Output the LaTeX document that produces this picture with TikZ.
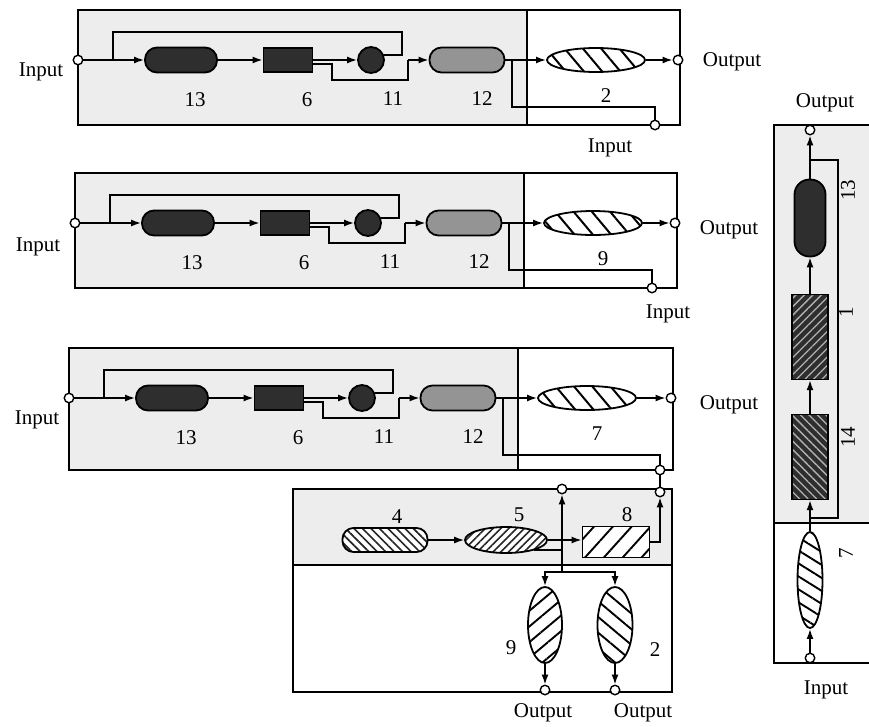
\documentclass[tikz,border=0pt]{standalone}
\usepackage{fontspec}
\setmainfont{Liberation Serif}
\usetikzlibrary{arrows.meta,patterns.meta,shapes.geometric}
\tikzset{
  ln/.style={line width=1.6pt},
  arr/.style={line width=1.6pt,-{Latex[length=10pt,width=7pt]}},
  frame/.style={line width=1.9pt},
  shadebg/.style={fill=gray!14},
  port/.style={circle,draw,line width=1.4pt,fill=white,minimum size=9.5pt,inner sep=0pt},
  lab/.style={font={\fontsize{21}{24}\selectfont},inner sep=0pt},
  solid node/.style={draw,line width=1.8pt,inner sep=0pt},
  darkpill/.style={solid node,rectangle,rounded corners=12pt,fill=black!82,minimum width=72pt,minimum height=25pt},
  graypill/.style={solid node,rectangle,rounded corners=12pt,fill=black!42,minimum width=75pt,minimum height=25pt},
  darkbox/.style={solid node,rectangle,fill=black!82,minimum width=49pt,minimum height=24pt},
  darkdot/.style={solid node,circle,fill=black!82,minimum size=26pt},
  hatchell/.style={solid node,ellipse,minimum width=98pt,minimum height=24pt,
     preaction={fill=white},pattern={Lines[angle=-50,distance=14pt,line width=2pt]},pattern color=black},
}
\newcommand\blockrow[8]{%
\begin{scope}[shift={(#2,#3)}]
  \fill[shadebg] (78,10) rectangle (527,#5);
  \draw[frame] (78,10) rectangle (#8,#5);
  \draw[frame] (527,10) -- (527,#5);
  \node[port] (#1in) at (78,60) {};
  \node[darkpill] (#1p13) at (181,60) {};
  \node[darkbox] (#1b6) at (288,60) {};
  \node[darkdot] (#1c11) at (371,60) {};
  \node[graypill] (#1p12) at (467,60) {};
  \node[hatchell] (#1e) at (596,60) {};
  \node[port] (#1out) at (#8-2,60) {};
  \node[port] (#1in2) at (#7,#5) {};
  \coordinate (#1b1) at (113,60);
  \coordinate (#1j) at (408,60);
  \coordinate (#1s) at (512,60);
  \draw[arr] (#1in) -- (#1p13);
  \draw[arr] (#1p13) -- (#1b6);
  \draw[arr] (#1b6) -- (#1c11);
  \draw[ln] ([yshift=-4pt]#1b6.east) -| (332,80) -| (#1j);
  \draw[ln] (#1b1) |- (402,32) |- (#1c11.20);
  \draw[arr] (#1j) -- (#1p12);
  \draw[arr] (#1p12) -- (#1e);
  \draw[ln] (#1s) |- (#7,#6) -- (#1in2);
  \draw[arr] (#1e) -- (#1out);
  \node[lab] (#1l13) at (195,100) {13};
  \node[lab] (#1l6) at (307,100) {6};
  \node[lab] (#1l11) at (393,99) {11};
  \node[lab] (#1l12) at (482,99) {12};
  \node[lab] (#1le) at (606,96) {#4};
\end{scope}}
\begin{document}
\begin{tikzpicture}[x=1pt,y=-1pt]
\useasboundingbox (0,0) rectangle (869,726);
\fill[white] (0,0) rectangle (869,726);

\blockrow{a}{0}{0}{2}{125}{107}{655}{680}
\blockrow{b}{-3}{163}{9}{125}{107}{655}{680}
\blockrow{c}{-9}{338}{7}{132}{117}{669}{682}

\node[lab] (ainl) at (41,72) {Input};
\node[lab] (aoutl) at (732,62) {Output};
\node[lab] (ain2l) at (610,148) {Input};
\node[lab] (binl) at (38,247) {Input};
\node[lab] (boutl) at (729,230) {Output};
\node[lab] (bin2l) at (668,314) {Input};
\node[lab] (cinl) at (37,420) {Input};
\node[lab] (coutl) at (729,405) {Output};

% bottom block
\fill[shadebg] (293,489) rectangle (672,565);
\draw[frame] (293,489) rectangle (672,692);
\draw[frame] (293,565) -- (672,565);
\node[solid node,rectangle,rounded corners=11pt,minimum width=85pt,minimum height=24pt,
  preaction={fill=white},pattern={Lines[angle=-45,distance=6pt,line width=1.7pt]},pattern color=black!85] (p4) at (385,540) {};
\node[solid node,ellipse,minimum width=82pt,minimum height=26pt,
  preaction={fill=white},pattern={Lines[angle=45,distance=5.5pt,line width=1.6pt]},pattern color=black!85] (e5) at (506,540) {};
\node[solid node,rectangle,minimum width=67pt,minimum height=31pt,
  preaction={fill=white},pattern={Lines[angle=48,distance=14pt,line width=1.9pt]},pattern color=black] (b8) at (616,542) {};
\node[solid node,ellipse,minimum width=34pt,minimum height=76pt,
  preaction={fill=white},pattern={Lines[angle=40,distance=12pt,line width=1.9pt]},pattern color=black] (e9b) at (545,625) {};
\node[solid node,ellipse,minimum width=35pt,minimum height=76pt,
  preaction={fill=white},pattern={Lines[angle=-40,distance=12pt,line width=1.9pt]},pattern color=black] (e2b) at (615,625) {};
\node[port] (o5) at (562,489) {};
\node[port] (o8) at (660,492) {};
\node[port] (o9b) at (545,690) {};
\node[port] (o2b) at (615,690) {};
\coordinate (j5b) at (562,572);
\draw[arr] (p4) -- (e5);
\draw[arr] (e5.east) -- (e5.east -| b8.west);
\draw[ln] (e5.-20) -| (j5b);
\draw[arr] (j5b) -- (o5);
\draw[arr] (j5b) -| (e9b);
\draw[arr] (j5b) -| (e2b);
\draw[arr] (e9b) -- (o9b);
\draw[arr] (e2b) -- (o2b);
\draw[arr] (b8.east) -| (o8);
\draw[ln] (cin2) -- (o8);
\node[lab] (l4) at (397,517) {4};
\node[lab] (l5) at (519,515) {5};
\node[lab] (l8) at (627,515) {8};
\node[lab] (l9b) at (511,648) {9};
\node[lab] (l2b) at (655,650) {2};
\node[lab] (lo9) at (543,713) {Output};
\node[lab] (lo2) at (643,713) {Output};

% right block
\fill[shadebg] (774,125) rectangle (880,523);
\draw[frame] (774,125) rectangle (880,663);
\draw[frame] (774,523) -- (880,523);
\node[port] (rout) at (810,130) {};
\node[solid node,rectangle,rounded corners=15pt,fill=black!82,minimum width=31pt,minimum height=77pt] (p13r) at (810,218) {};
\node[solid node,rectangle,minimum width=36pt,minimum height=85pt,
  preaction={fill=black!82},pattern={Lines[angle=45,distance=6pt,line width=1.3pt]},pattern color=gray!60] (b1r) at (810,337) {};
\node[solid node,rectangle,minimum width=36pt,minimum height=85pt,
  preaction={fill=black!82},pattern={Lines[angle=-45,distance=6pt,line width=1.3pt]},pattern color=gray!60] (b14r) at (810,457) {};
\node[solid node,ellipse,minimum width=25pt,minimum height=96pt,
  preaction={fill=white},pattern={Lines[angle=-32,distance=11pt,line width=1.9pt]},pattern color=black] (e7r) at (810,580) {};
\node[port] (rin) at (810,658) {};
\coordinate (rb1) at (810,160);
\coordinate (rb2) at (810,518);
\draw[arr] (rin) -- (e7r);
\draw[arr] (e7r) -- (b14r);
\draw[arr] (b14r) -- (b1r);
\draw[arr] (b1r) -- (p13r);
\draw[arr] (p13r) -- (rout);
\draw[ln] (rb1) -| (838,340) |- (rb2);
\node[lab,rotate=90] (lr13) at (848,190) {13};
\node[lab,rotate=90] (lr1) at (846,312) {1};
\node[lab,rotate=90] (lr14) at (848,437) {14};
\node[lab,rotate=90] (lr7) at (846,553) {7};
\node[lab] (lrout) at (825,103) {Output};
\node[lab] (lrin) at (826,690) {Input};
\end{tikzpicture}
\end{document}
